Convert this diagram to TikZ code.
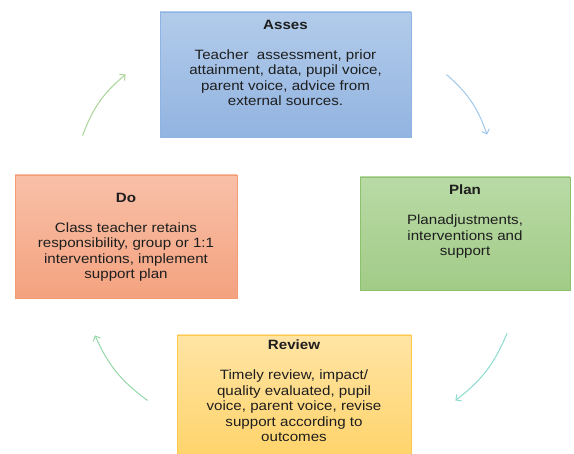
\documentclass[tikz,border=0pt]{standalone}
\usepackage{fontspec}
\setmainfont{Liberation Sans}[FakeStretch=1.12]
\usetikzlibrary{arrows.meta,positioning,shadows}

\definecolor{assesfill}{HTML}{B2CBEA}
\definecolor{assesdark}{HTML}{92B4E1}
\definecolor{assesline}{HTML}{8DB4E2}
\definecolor{planfill}{HTML}{B9DAA6}
\definecolor{plandark}{HTML}{A2CB87}
\definecolor{planline}{HTML}{8DC26D}
\definecolor{dofill}{HTML}{F8C0A8}
\definecolor{dodark}{HTML}{F4A27F}
\definecolor{doline}{HTML}{F39C73}
\definecolor{reviewfill}{HTML}{FFE4A4}
\definecolor{reviewdark}{HTML}{FFD46C}
\definecolor{reviewline}{HTML}{FFC94F}
\definecolor{inkgray}{HTML}{1E1E1E}

\begin{document}
\begin{tikzpicture}[x=1pt, y=1pt,
  stage/.style={rectangle, draw, line width=0.8pt, inner sep=0pt,
    drop shadow={shadow xshift=0pt, shadow yshift=-1.5pt, fill=black!30, opacity=0.4}},
  stagetext/.style={inner sep=0pt, align=center, text=inkgray,
    font=\fontsize{13.5}{15.5}\selectfont},
  cycle/.style={line width=1pt, -{Straight Barb[length=4pt, width=8pt]}}]
\useasboundingbox (0,0) rectangle (574,454);

% the four stages
\node[stage, draw=assesline, top color=assesfill, bottom color=assesdark,
  minimum width=251, minimum height=125] (asses) at (285.5,379.5) {};
\node[stagetext, below=8pt of asses.north] (asses-text)
  {\textbf{Asses}\\[14.5pt]Teacher\ \ assessment, prior\\attainment, data, pupil voice,\\parent voice, advice from\\external sources.};

\node[stage, draw=planline, top color=planfill, bottom color=plandark,
  minimum width=210, minimum height=113] (plan) at (465,220.5) {};
\node[stagetext, below=8pt of plan.north] (plan-text)
  {\textbf{Plan}\\[14.5pt]Planadjustments,\\interventions and\\support};

\node[stage, draw=doline, top color=dofill, bottom color=dodark,
  minimum width=222, minimum height=123] (do) at (126,217.5) {};
\node[stagetext, below=18pt of do.north] (do-text)
  {\textbf{Do}\\[14.5pt]Class teacher retains\\responsibility, group or 1:1\\interventions, implement\\support plan};

\node[stage, draw=reviewline, top color=reviewfill, bottom color=reviewdark,
  minimum width=234, minimum height=119] (review) at (294,59.5) {};
\node[stagetext, below=5pt of review.north] (review-text)
  {\textbf{Review}\\[14.5pt]Timely review, impact/\\quality evaluated, pupil\\voice, parent voice, revise\\support according to\\outcomes};

% arrows round the cycle
\draw[cycle, draw={rgb,255:red,168;green,212;blue,150}]
  ([shift={(68,39)}]do.north west) to[bend left=15] ([shift={(-34,0)}]asses.west);
\draw[cycle, draw={rgb,255:red,160;green,200;blue,235}]
  ([shift={(35,0)}]asses.east) to[bend left=15] ([shift={(22,42)}]plan.north);
\draw[cycle, draw={rgb,255:red,140;green,220;blue,205}]
  ([shift={(42,-43)}]plan.south) to[bend left=15] ([shift={(44,-6)}]review.east);
\draw[cycle, draw={rgb,255:red,150;green,215;blue,170}]
  ([shift={(-29,-6)}]review.west) to[bend left=15] ([shift={(-31,-37)}]do.south);
\end{tikzpicture}
\end{document}
